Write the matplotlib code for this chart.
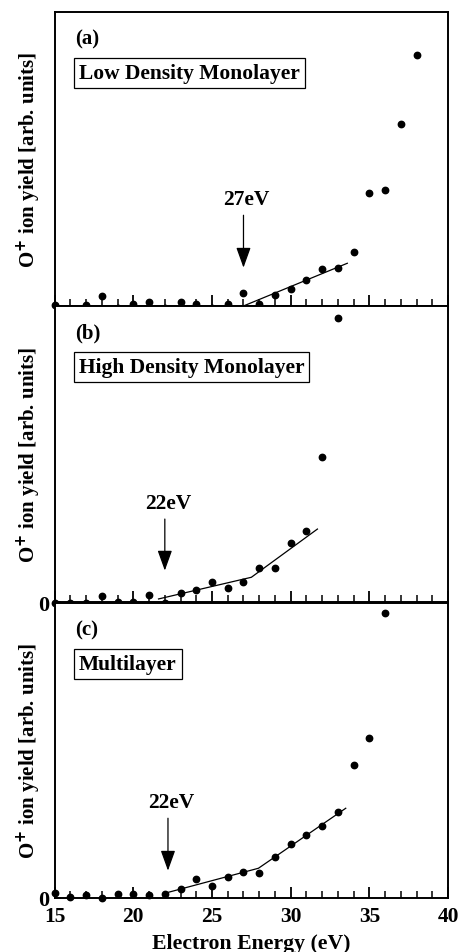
#!/usr/bin/env python3
import matplotlib
matplotlib.use("Agg")
import matplotlib.pyplot as plt

plt.rcParams['font.family'] = ['Liberation Serif', 'DejaVu Serif']
plt.rcParams['font.weight'] = 'bold'

# --- Data (yield in arbitrary units) ---
energy = list(range(15, 39))

yield_low = [0.7, -2.7, 1.3, 10, -2.3, 2.3, 4.3, -1.7, 4.3, 2, -1.7, 2,
             12.7, 2.3, 10.7, 16.7, 25.7, 37, 38, 54, 112.7, 116, 182.3, 251]
yield_high = [-1, -1, -1, 6.7, 0, 0, 7.3, -0.7, 9.7, 12.7, 20.3, 14.7,
              20.3, 34.7, 34.7, 59.7, 71.3, 145.3, 284.7]
yield_multi = [5, 0.7, 2.7, 0, 3.7, 4.3, 3, 3.7, 8.7, 19, 12, 21, 26.3,
               25, 41.3, 53.7, 63.3, 71.7, 86.3, 132.7, 160, 285]

# linear fits drawn by hand in the original
fit_low_x = [27, 33.6]
fit_low_y = [0, 42.7]
fit_high_x = [21.6, 27.5, 31.7]
fit_high_y = [3.3, 25, 73.3]
fit_multi_x = [21.9, 27.95, 33.5]
fit_multi_y = [4.3, 29.7, 89.7]

panel_tags = ['(a)', '(b)', '(c)']
panel_names = ['Low Density Monolayer', 'High Density Monolayer', 'Multilayer']
thresholds = [27, 22, 22.2]
threshold_text = ['27eV', '22eV', '22eV']
arrow_top = [90.7, 83.3, 79.7]
arrow_tip = [38.3, 31.7, 27.3]
ymax = [294, 296.7, 295]

series = [
    (energy[:len(yield_low)], yield_low, fit_low_x, fit_low_y),
    (energy[:len(yield_high)], yield_high, fit_high_x, fit_high_y),
    (energy[:len(yield_multi)], yield_multi, fit_multi_x, fit_multi_y),
]

# --- Layout ---
fig = plt.figure(figsize=(4.62, 9.53), dpi=100)
left, width = 0.1184, 0.8513
boxes = [(0.6779, 0.3085), (0.3670, 0.3109), (0.0567, 0.3096)]

for i, ((x, y, fx, fy), (bottom, height)) in enumerate(zip(series, boxes)):
    ax = fig.add_axes([left, bottom, width, height])
    ax.plot(x, y, 'o', color='k', markersize=4.6, clip_on=False, zorder=3)
    ax.plot(fx, fy, '-', color='k', lw=0.9, zorder=2)

    ax.annotate('', xy=(thresholds[i], arrow_tip[i]), xytext=(thresholds[i], arrow_top[i]),
                arrowprops=dict(arrowstyle='-|>,head_length=1.25,head_width=0.45',
                                color='k', lw=0.9, shrinkA=0, shrinkB=0))
    ax.text(thresholds[i] + 0.2, arrow_top[i] + 16, threshold_text[i], ha='center',
            va='center', fontsize=15.5, fontweight='bold')

    ax.text(16.3, ymax[i] - 27, panel_tags[i], ha='left', va='center',
            fontsize=15, fontweight='bold')
    ax.text(16.55, ymax[i] - 61, panel_names[i], ha='left', va='center',
            fontsize=15.5, fontweight='bold',
            bbox=dict(boxstyle='square,pad=0.22', fc='white', ec='k', lw=0.9))

    ax.set_xlim(15, 40)
    ax.set_ylim(0, ymax[i])
    ax.set_xticks(range(15, 41, 5))
    ax.set_xticks(range(15, 41), minor=True)
    ax.tick_params(axis='x', which='major', direction='in', length=8, width=1.3,
                   top=False, labelsize=15.5, pad=6)
    ax.tick_params(axis='x', which='minor', direction='in', length=5, width=1.1, top=False)
    ax.set_yticks([0])
    ax.tick_params(axis='y', direction='in', length=4, width=1.2, labelsize=16, pad=4)
    if i == 0:
        ax.set_yticklabels([''])
    if i < 2:
        ax.set_xticklabels([])
    for sp in ax.spines.values():
        sp.set_linewidth(1.4)
    ax.set_ylabel('O$^{+}$ ion yield [arb. units]', fontsize=15, fontweight='bold')
    ax.yaxis.set_label_coords(-0.03, 0.5)

ax.set_xlabel('Electron Energy (eV)', fontsize=15.7, fontweight='bold', labelpad=5)

fig.savefig('out.png', dpi=100)
plt.close()
